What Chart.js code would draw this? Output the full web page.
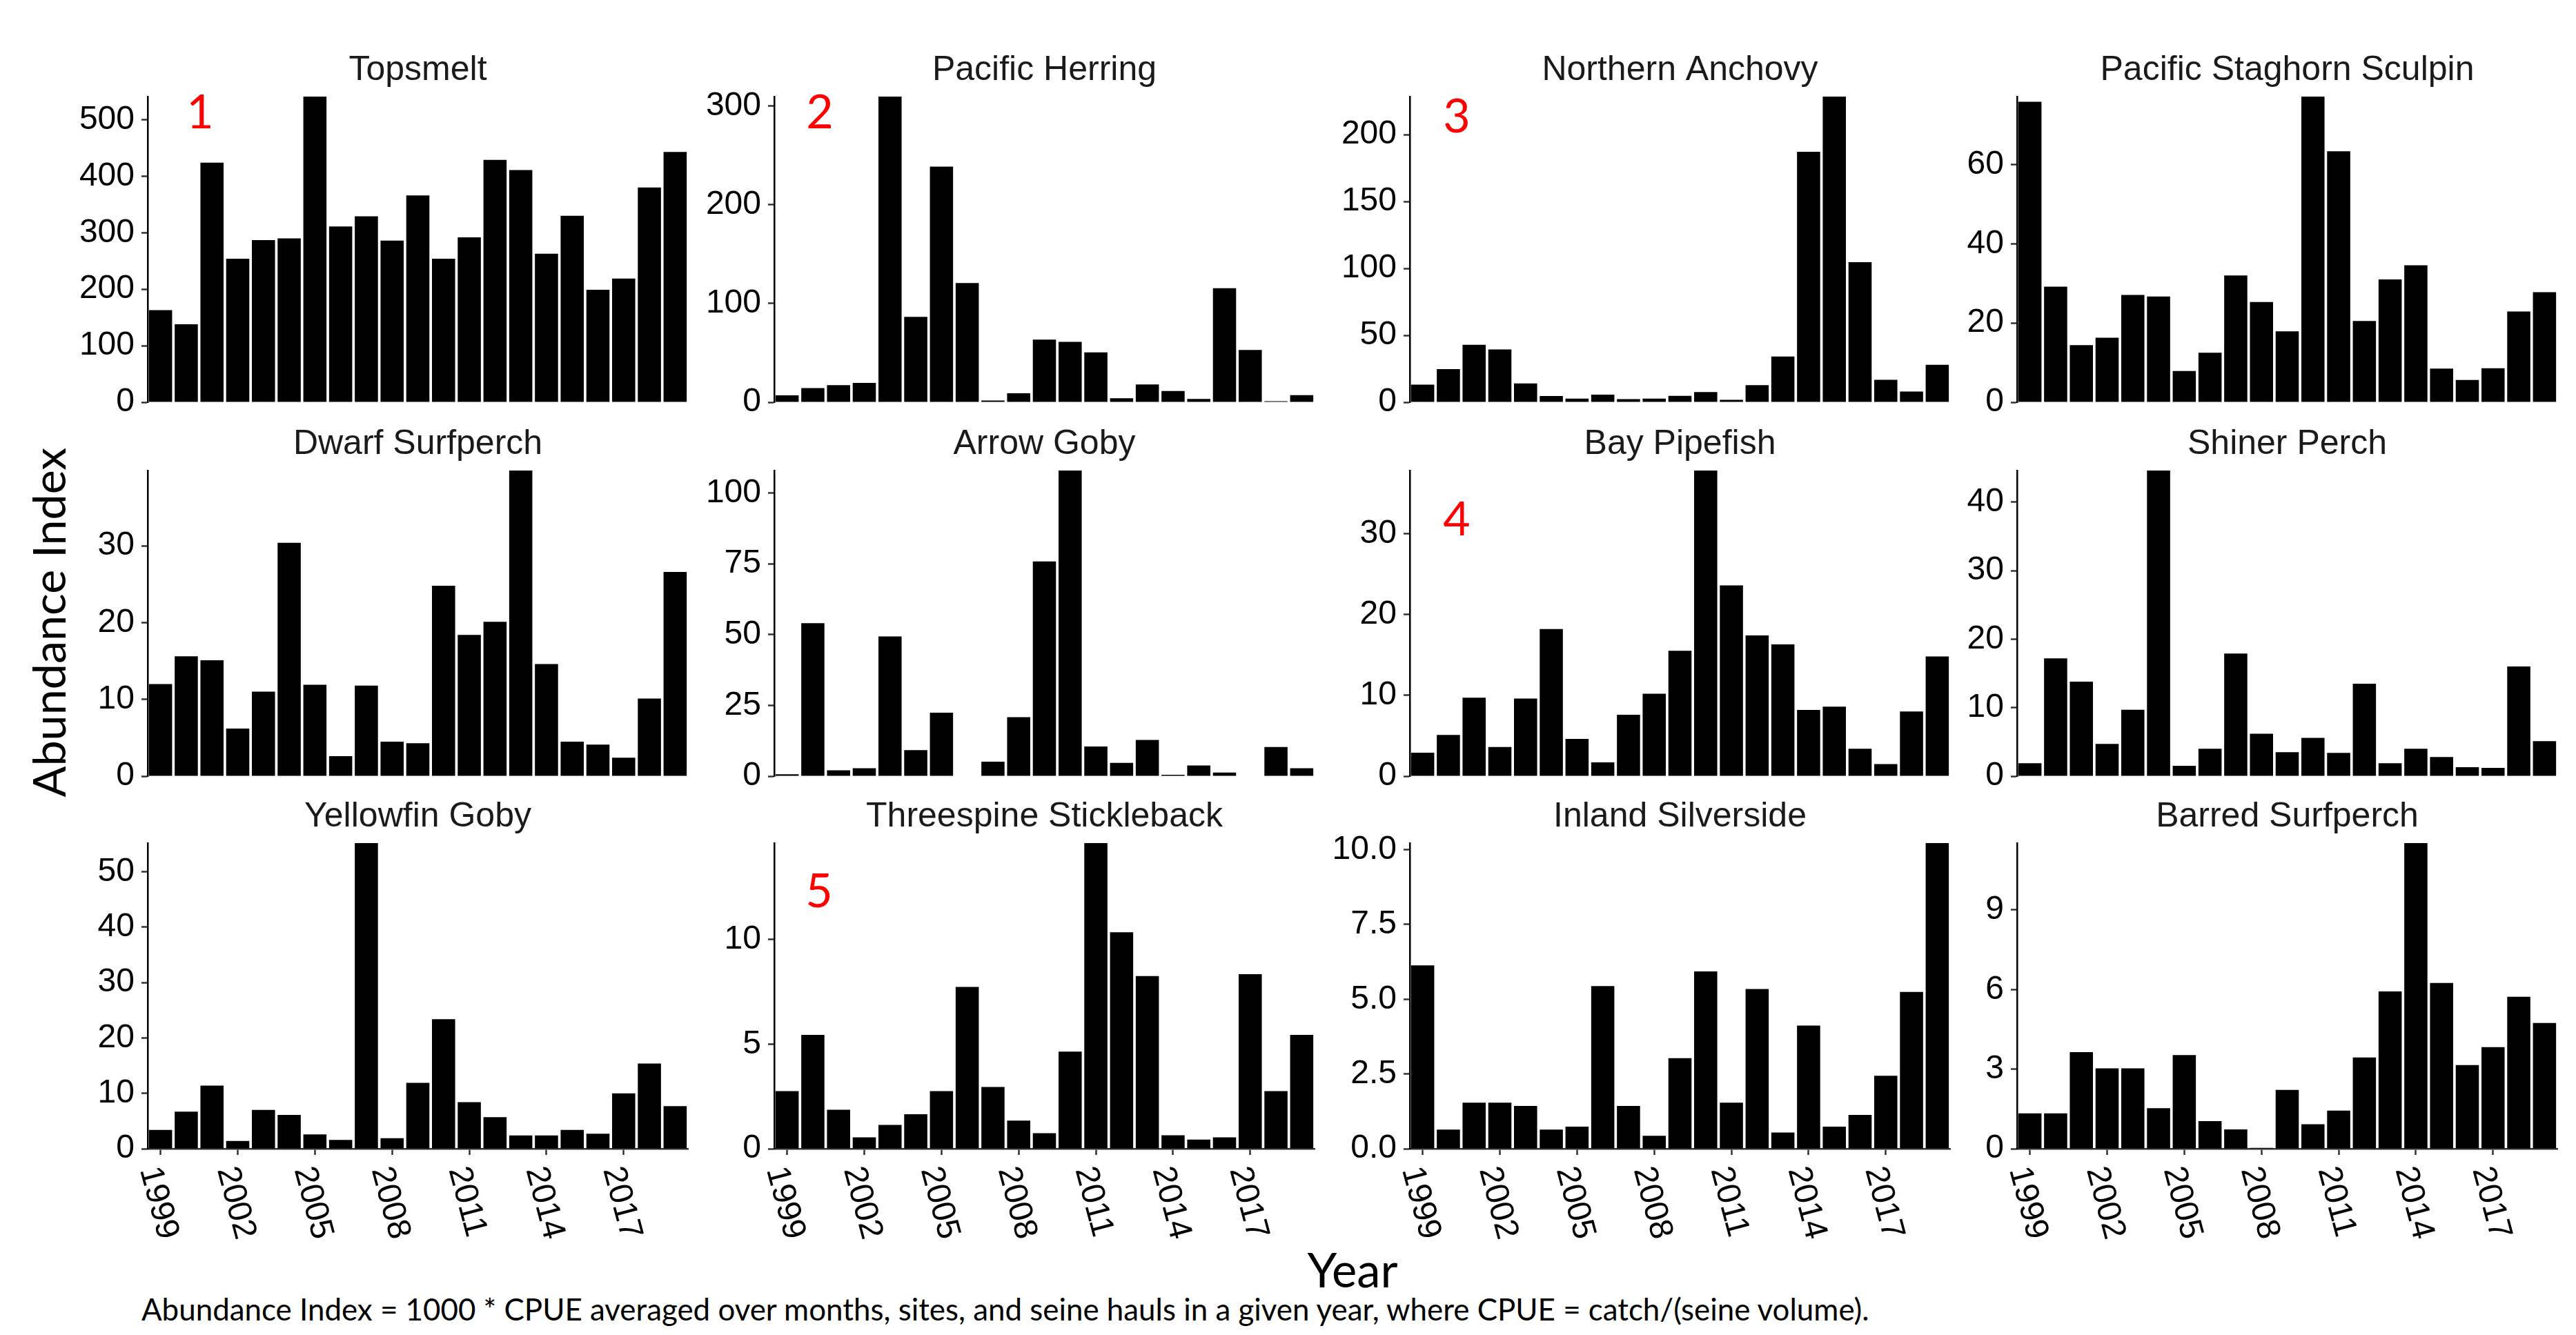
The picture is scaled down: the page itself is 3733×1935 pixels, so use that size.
<!DOCTYPE html>
<html>
<head>
<meta charset="utf-8">
<script src="https://cdn.jsdelivr.net/npm/chart.js@4"></script>
<style>
  body { margin: 0; background: #fff; width: 3733px; height: 1935px; position: relative; overflow: hidden; }
  .painel { position: absolute; }
  .texto { position: absolute; white-space: nowrap; line-height: 1; font-family: Lato, "Open Sans", sans-serif; color: #000; }
  .marca { position: absolute; line-height: 1; font-family: Lato, sans-serif; font-size: 68px; color: #ff0000; transform: translate(-50%, -50%); }
</style>
</head>
<body>
<div id="eixoY" class="texto" style="left:69px; top:902px; font-size:70px; transform: translate(-50%, -50%) rotate(-90deg);">Abundance Index</div>
<div id="eixoX" class="texto" style="left:1960px; top:1840px; font-size:72px; transform: translate(-50%, -50%);">Year</div>
<div id="nota" class="texto" style="left:205px; top:1898px; font-size:44px; transform: translateY(-50%);">Abundance Index = 1000 * CPUE averaged over months, sites, and seine hauls in a given year, where CPUE = catch/(seine volume).</div>
<script>
const anos = [1999, 2000, 2001, 2002, 2003, 2004, 2005, 2006, 2007, 2008, 2009, 2010, 2011, 2012, 2013, 2014, 2015, 2016, 2017, 2018, 2019];
const anosRotulados = [1999, 2002, 2005, 2008, 2011, 2014, 2017];

const especies = ['Topsmelt', 'Pacific Herring', 'Northern Anchovy', 'Pacific Staghorn Sculpin',
  'Dwarf Surfperch', 'Arrow Goby', 'Bay Pipefish', 'Shiner Perch',
  'Yellowfin Goby', 'Threespine Stickleback', 'Inland Silverside', 'Barred Surfperch'];

const topsmelt = [163, 138, 424, 254, 287, 290, 541, 311, 329, 286, 366, 254, 292, 429, 411, 263, 330, 199, 219, 380, 443];
const pacificHerring = [7.0, 14.4, 17.3, 19.5, 309.7, 86.6, 238.7, 120.8, 1.7, 9.1, 63.5, 61.1, 50.5, 4.1, 18.0, 11.3, 3.4, 115.5, 53.0, 1.0, 7.2];
const northernAnchovy = [13.1, 24.8, 42.9, 39.4, 14.0, 4.6, 2.7, 5.7, 2.3, 2.7, 4.8, 7.6, 1.8, 12.8, 34.2, 187.2, 228.4, 104.7, 16.7, 8.0, 28.0];
const staghornSculpin = [75.9, 29.2, 14.4, 16.3, 27.1, 26.7, 7.9, 12.5, 32.0, 25.3, 17.9, 77.2, 63.4, 20.5, 31.0, 34.6, 8.5, 5.6, 8.6, 22.9, 27.8];
const dwarfSurfperch = [12.0, 15.6, 15.1, 6.2, 11.0, 30.4, 11.9, 2.6, 11.8, 4.5, 4.3, 24.8, 18.4, 20.1, 39.8, 14.6, 4.5, 4.1, 2.4, 10.1, 26.6];
const arrowGoby = [0.7, 54.0, 2.1, 2.8, 49.3, 9.2, 22.4, 0.1, 5.1, 20.8, 75.8, 107.9, 10.5, 4.7, 12.8, 0.5, 3.8, 1.3, 0.1, 10.3, 2.8];
const bayPipefish = [2.9, 5.1, 9.7, 3.6, 9.6, 18.2, 4.6, 1.7, 7.6, 10.2, 15.5, 37.8, 23.6, 17.4, 16.3, 8.2, 8.6, 3.4, 1.5, 8.0, 14.8];
const shinerPerch = [1.9, 17.2, 13.8, 4.7, 9.7, 44.6, 1.5, 4.0, 17.9, 6.2, 3.5, 5.6, 3.4, 13.5, 1.9, 4.0, 2.8, 1.3, 1.2, 16.0, 5.1];
const yellowfinGoby = [3.4, 6.7, 11.4, 1.4, 7.0, 6.1, 2.6, 1.6, 55.2, 1.9, 11.9, 23.4, 8.4, 5.7, 2.4, 2.4, 3.4, 2.7, 10.0, 15.4, 7.7];
const threespineStickleback = [2.75, 5.44, 1.86, 0.54, 1.14, 1.65, 2.75, 7.73, 2.95, 1.34, 0.74, 4.64, 14.6, 10.34, 8.25, 0.64, 0.44, 0.54, 8.34, 2.75, 5.44];
const inlandSilverside = [6.13, 0.64, 1.54, 1.54, 1.43, 0.64, 0.74, 5.44, 1.43, 0.43, 3.03, 5.93, 1.54, 5.34, 0.54, 4.12, 0.74, 1.13, 2.44, 5.24, 10.22];
const barredSurfperch = [1.33, 1.33, 3.64, 3.03, 3.03, 1.53, 3.53, 1.04, 0.73, 0.03, 2.22, 0.92, 1.44, 3.44, 5.93, 11.52, 6.25, 3.15, 3.83, 5.73, 4.74];

// marcas do eixo Y de cada painel
const ticksY = [
  [0, 100, 200, 300, 400, 500],
  [0, 100, 200, 300],
  [0, 50, 100, 150, 200],
  [0, 20, 40, 60],
  [0, 10, 20, 30],
  [0, 25, 50, 75, 100],
  [0, 10, 20, 30],
  [0, 10, 20, 30, 40],
  [0, 10, 20, 30, 40, 50],
  [0, 5, 10],
  [0, 2.5, 5, 7.5, 10],
  [0, 3, 6, 9],
];
const casasDecimais = [0, 0, 0, 0, 0, 0, 0, 0, 0, 0, 1, 0];

const series = [topsmelt, pacificHerring, northernAnchovy, staghornSculpin,
  dwarfSurfperch, arrowGoby, bayPipefish, shinerPerch,
  yellowfinGoby, threespineStickleback, inlandSilverside, barredSurfperch];

// marcadores vermelhos
const marcadores = [
  { texto: '1', x: 290, y: 160 },
  { texto: '2', x: 1188, y: 160 },
  { texto: '3', x: 2111, y: 166 },
  { texto: '4', x: 2111, y: 750 },
  { texto: '5', x: 1187, y: 1289 },
];

// layout (px) da area de plotagem de cada painel
const esquerdas = [214, 1122, 2043, 2923];
const topos = [140, 682, 1222];
const LARGURA_AREA = 783;
const ALTURA_AREA = 443;
const EIXO_Y = 200;
const TOPO_EXTRA = 78;
const BASE_PAD = 40;
const EIXO_X_BASE = 150;

Chart.defaults.font.family = '"Liberation Sans", Arial, sans-serif';
Chart.defaults.color = '#000';

const rotulosAnos = {
  id: 'rotulosAnos',
  afterDraw(chart) {
    const escalaX = chart.scales.x;
    const ctx = chart.ctx;
    ctx.save();
    ctx.font = '48px "Liberation Sans", Arial, sans-serif';
    ctx.fillStyle = '#000';
    ctx.textAlign = 'left';
    ctx.textBaseline = 'middle';
    anos.forEach((ano, i) => {
      if (!anosRotulados.includes(ano)) return;
      const x = escalaX.getPixelForValue(i);
      ctx.save();
      ctx.translate(x - 17, chart.chartArea.bottom + 27);
      ctx.rotate(75 * Math.PI / 180);
      ctx.fillText(String(ano), 0, 0);
      ctx.restore();
    });
    ctx.restore();
  },
};

const criarPainel = (i) => {
  const linha = Math.floor(i / 4);
  const coluna = i % 4;
  const ultimaLinha = linha === 2;
  const alturaX = ultimaLinha ? EIXO_X_BASE : 0;
  const valores = series[i];

  const div = document.createElement('div');
  div.className = 'painel';
  div.style.left = (esquerdas[coluna] - EIXO_Y) + 'px';
  div.style.top = (topos[linha] - TOPO_EXTRA) + 'px';
  div.style.width = (EIXO_Y + LARGURA_AREA + 10) + 'px';
  div.style.height = (TOPO_EXTRA + ALTURA_AREA + alturaX + BASE_PAD) + 'px';
  const canvas = document.createElement('canvas');
  div.appendChild(canvas);
  document.body.appendChild(div);

  new Chart(canvas, {
    type: 'bar',
    data: {
      labels: anos,
      datasets: [{
        data: valores,
        backgroundColor: '#000',
        borderWidth: 0,
        barPercentage: 0.9,
        categoryPercentage: 1.0,
      }],
    },
    options: {
      responsive: true,
      maintainAspectRatio: false,
      animation: false,
      layout: { padding: { top: 10, right: 10, bottom: BASE_PAD, left: 0 } },
      plugins: {
        legend: { display: false },
        tooltip: { enabled: false },
        title: {
          display: true,
          text: especies[i],
          fullSize: false,
          align: 'center',
          color: '#1a1a1a',
          font: { size: 50, weight: 'normal', lineHeight: 1.2 },
          padding: { top: 0, bottom: 8 },
        },
      },
      scales: {
        x: {
          display: ultimaLinha,
          offset: true,
          grid: {
            drawOnChartArea: false,
            drawTicks: true,
            offset: false,
            tickLength: 9,
            tickWidth: 2.5,
            tickColor: (c) => (anosRotulados.includes(anos[c.index]) ? '#333' : 'rgba(0,0,0,0)'),
          },
          border: { display: true, color: '#333', width: 2.5 },
          ticks: { display: false, autoSkip: false },
          afterFit: (escala) => { escala.height = alturaX; },
        },
        y: {
          min: 0,
          max: Math.max(...valores),
          grid: { drawOnChartArea: false, drawTicks: true, tickLength: 9, tickWidth: 2.5, tickColor: '#333' },
          border: { display: true, color: '#000', width: 2.5 },
          ticks: {
            autoSkip: false,
            padding: 10,
            color: '#000',
            font: { size: 48 },
            callback: (v) => Number(v).toFixed(casasDecimais[i]),
          },
          afterBuildTicks: (escala) => {
            escala.ticks = ticksY[i].map((v) => ({ value: v }));
          },
          afterFit: (escala) => { escala.width = EIXO_Y; },
        },
      },
    },
    plugins: ultimaLinha ? [rotulosAnos] : [],
  });
};

especies.forEach((_, i) => criarPainel(i));

marcadores.forEach((m) => {
  const el = document.createElement('div');
  el.className = 'marca';
  el.textContent = m.texto;
  el.style.left = m.x + 'px';
  el.style.top = m.y + 'px';
  document.body.appendChild(el);
});

const ajustarLargura = (id, largura) => {
  const el = document.getElementById(id);
  const tamanho = parseFloat(getComputedStyle(el).fontSize);
  el.style.fontSize = (tamanho * largura / el.offsetWidth) + 'px';
};

ajustarLargura('eixoY', 507);
ajustarLargura('eixoX', 131);
ajustarLargura('nota', 2505);
</script>
</body>
</html>
